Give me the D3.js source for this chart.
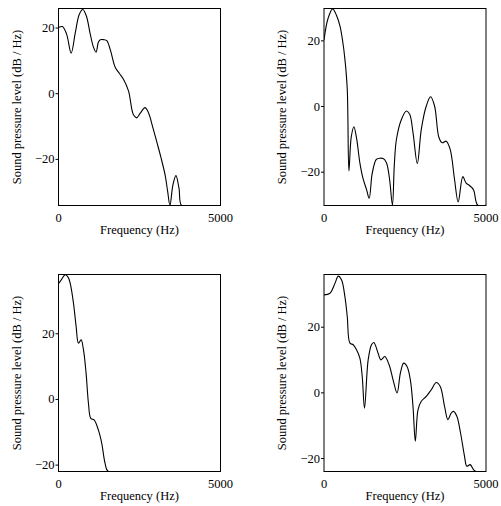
<!DOCTYPE html>
<html>
<head>
<meta charset="utf-8">
<script src="https://cdn.jsdelivr.net/npm/d3@7"></script>
<style>
  body { margin: 0; background: #fff; }
  svg { display: block; }
</style>
</head>
<body>
<svg id="chart" width="501" height="506"></svg>
<script>
// spectra (Hz, dB/Hz); each panel spans 60 dB below its max
var freqA = [0, 120, 250, 390, 520, 640, 750, 860, 980, 1080, 1160, 1230, 1290, 1400, 1490, 1600, 1750, 1880, 2000, 2160, 2310, 2410, 2530, 2670, 2780, 2900, 3030, 3160, 3290, 3370, 3440, 3530, 3625, 3720, 3800, 4100, 4230, 4350, 5000];
var levelA = [20, 20.3, 18, 12.2, 18.5, 24, 25.5, 23.5, 18, 14, 12.5, 15.5, 16.3, 16.3, 16, 13.2, 7.9, 6, 4.3, 0.7, -6.5, -7.5, -6, -4.4, -6, -10, -14.7, -19.5, -24.9, -30, -35, -28, -25.1, -29, -35, -35, -34.4, -35, -35];
var maxA = 25.8;

var freqB = [0, 120, 266, 390, 492, 580, 646, 718, 769, 840, 922, 1000, 1107, 1210, 1312, 1394, 1480, 1560, 1620, 1825, 1927, 2020, 2112, 2170, 2235, 2389, 2542, 2645, 2747, 2880, 3003, 3157, 3290, 3413, 3547, 3649, 3772, 3895, 4028, 4141, 4285, 4387, 4490, 4613, 4746, 5000];
var levelB = [20.1, 26.5, 29.6, 27.5, 24.4, 19.5, 14.2, 5.1, -19.8, -9.5, -6.3, -9.5, -17.3, -22.3, -25.4, -28.1, -21, -17.5, -16.2, -16, -17.3, -22, -30.2, -18, -10.2, -4.1, -1.5, -2.5, -8.1, -17.5, -7.1, 0, 2.8, 0, -9.6, -11.2, -10.7, -13.2, -22.3, -29.2, -21.5, -23.5, -24.2, -25.5, -30.2, -30.2];
var maxB = 29.7;

var freqC = [0, 100, 205, 290, 360, 462, 544, 616, 698, 770, 852, 924, 996, 1099, 1232, 1335, 1438, 1540, 5000];
var levelC = [35.1, 36.5, 37.8, 37.2, 35.3, 29.2, 22.1, 17, 18, 15, 7.8, -1.3, -5.9, -6.4, -9.5, -13.5, -19.6, -22.1, -22.1];
var maxC = 37.9;

var freqD = [0, 184, 338, 440, 543, 646, 718, 800, 902, 1004, 1107, 1179, 1250, 1363, 1466, 1538, 1671, 1753, 1876, 2009, 2132, 2255, 2358, 2460, 2563, 2665, 2747, 2819, 2901, 3003, 3157, 3311, 3465, 3588, 3721, 3823, 3926, 3998, 4100, 4213, 4336, 4408, 4510, 4613, 4695, 5000];
var levelD = [29.7, 30.2, 33.2, 35.4, 34.2, 29.1, 23.1, 15, 14.5, 13, 10.4, 4.9, -4.8, 9.9, 14.5, 15.2, 11.9, 9.9, 10.9, 8.4, 3.8, -0.2, 5.9, 8.9, 7.9, 3.8, -4.3, -14.9, -5.3, -2.7, -1.2, 0.8, 3, 1.8, -4.3, -8.3, -6.3, -5.8, -7.3, -12.3, -19.4, -22.5, -22, -23.5, -24.1, -24.1];
var maxD = 35.9;

var yTicks = [-20, 0, 20];
var xTickLabels = [0, 5000];
var xTitle = 'Frequency (Hz)';
var yTitle = 'Sound pressure level (dB / Hz)';

var serif = '"Liberation Serif", "DejaVu Serif", Times, serif';

var panels = [
  {freq: freqA, level: levelA, max: maxA, left: 58.5, top: 8.5},
  {freq: freqB, level: levelB, max: maxB, left: 324, top: 8.5},
  {freq: freqC, level: levelC, max: maxC, left: 58.5, top: 274.5},
  {freq: freqD, level: levelD, max: maxD, left: 324, top: 274.5}
];

var pw = 162, ph = 197;
var svg = d3.select('#chart').attr('font-family', serif);

panels.forEach(function (p, i) {
  var x = d3.scaleLinear().domain([0, 5000]).range([0, pw]);
  var y = d3.scaleLinear().domain([p.max - 60, p.max]).range([ph, 0]);
  var g = svg.append('g').attr('transform', 'translate(' + p.left + ',' + p.top + ')');

  g.append('clipPath').attr('id', 'clip' + i)
    .append('rect').attr('width', pw).attr('height', ph);

  var pts = p.freq.map(function (f, k) {
    return [f, Math.max(p.level[k], p.max - 60)];
  });
  var line = d3.line()
    .x(function (d) { return x(d[0]); })
    .y(function (d) { return y(d[1]); })
    .curve(d3.curveCatmullRom.alpha(0.5));

  g.append('path')
    .attr('d', line(pts))
    .attr('clip-path', 'url(#clip' + i + ')')
    .attr('fill', 'none')
    .attr('stroke', '#000')
    .attr('stroke-width', 1.1);

  g.append('rect')
    .attr('width', pw).attr('height', ph)
    .attr('fill', 'none').attr('stroke', '#000').attr('stroke-width', 1);

  var yAxis = d3.axisLeft(y).tickValues(yTicks).tickSize(3).tickPadding(1)
    .tickFormat(d3.format('d'));
  var ya = g.append('g').call(yAxis)
    .attr('font-family', serif).attr('font-size', 12.5);
  ya.select('.domain').remove();

  g.selectAll('.xlab').data(xTickLabels).enter().append('text')
    .attr('class', 'xlab')
    .attr('x', function (d) { return x(d); })
    .attr('y', ph + 16)
    .attr('text-anchor', 'middle')
    .attr('font-family', serif)
    .attr('font-size', 12.5)
    .text(function (d) { return d; });

  g.append('text')
    .attr('x', pw / 2)
    .attr('y', ph + 28)
    .attr('text-anchor', 'middle')
    .attr('font-family', serif)
    .attr('font-size', 12.5)
    .text(xTitle);

  g.append('text')
    .attr('transform', 'translate(-38,' + (ph / 2) + ') rotate(-90)')
    .attr('text-anchor', 'middle')
    .attr('font-family', serif)
    .attr('font-size', 12.5)
    .text(yTitle);
});
</script>
</body>
</html>
